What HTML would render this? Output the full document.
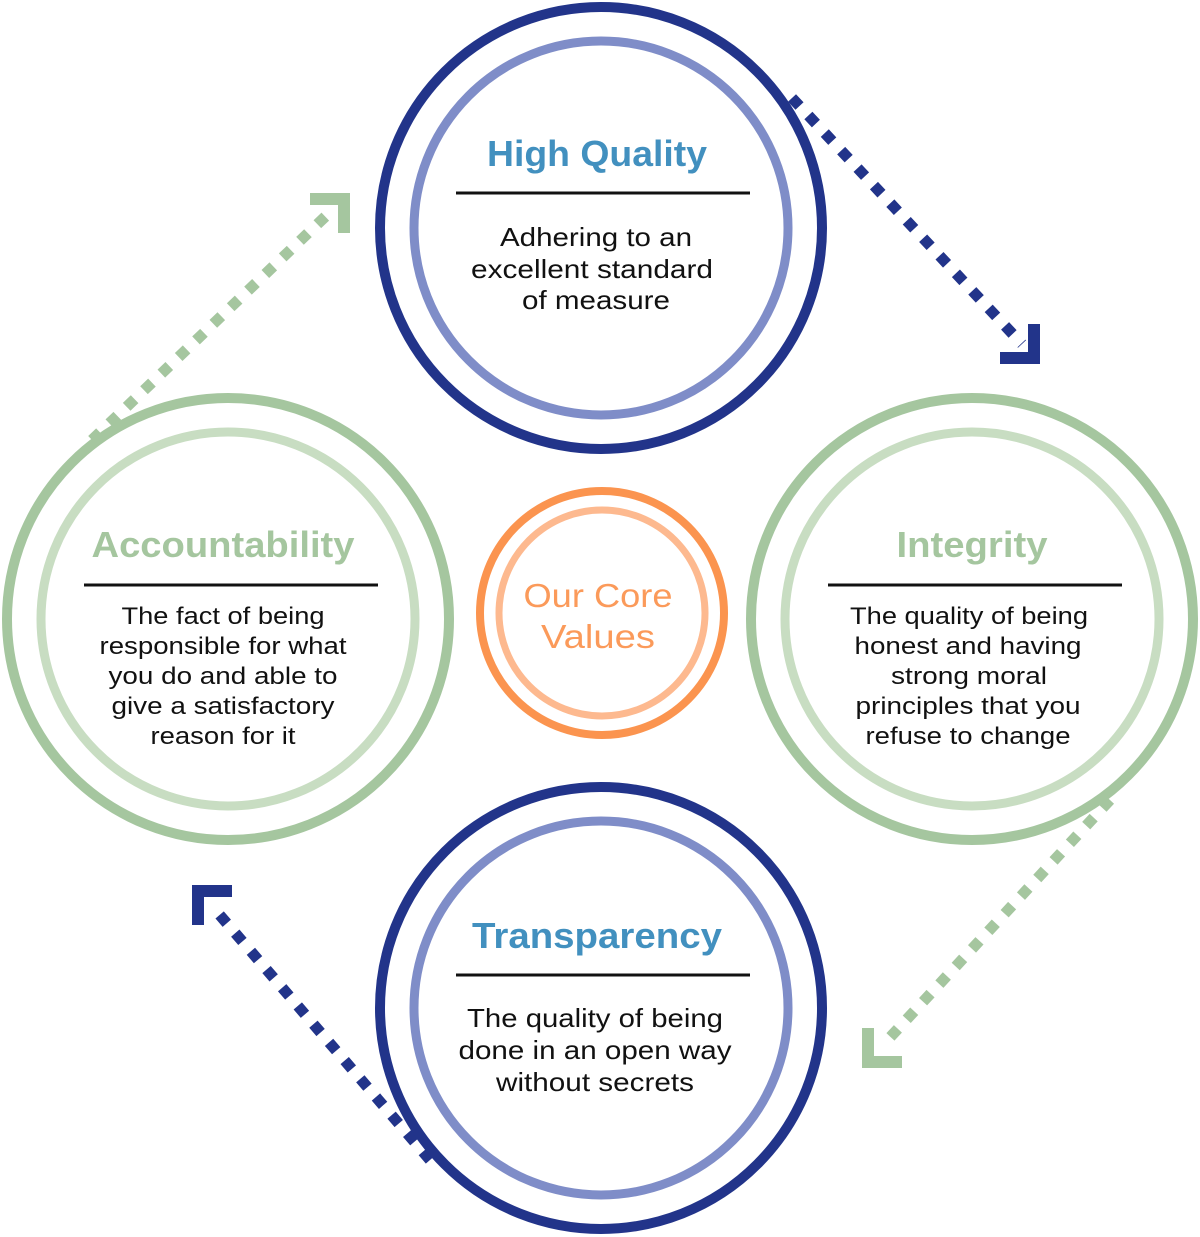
<!DOCTYPE html>
<html><head><meta charset="utf-8"><style>
html,body{margin:0;padding:0;background:#fff;width:1200px;height:1237px;overflow:hidden}
svg{display:block}
text{font-family:"Liberation Sans",sans-serif;text-anchor:middle}
.t{font-weight:bold;font-size:36px}
.b{font-size:24px;fill:#111}
.bb{font-size:26px;fill:#111}
</style></head><body>
<svg width="1200" height="1237" viewBox="0 0 1200 1237">
<g fill="none" stroke-width="11" stroke-dasharray="11 13">
<line x1="792" y1="98" x2="1022" y2="344" stroke="#22348a"/>
<line x1="430" y1="1160" x2="212" y2="906" stroke="#22348a"/>
<line x1="92" y1="440" x2="328" y2="214" stroke="#a5c69f"/>
<line x1="1110" y1="800" x2="882" y2="1046" stroke="#a5c69f"/>
</g>
<g fill="none" stroke-width="12" stroke-linejoin="miter">
<polyline points="1000,358 1034,358 1034,324" stroke="#22348a"/>
<polyline points="232,891 198,891 198,925" stroke="#22348a"/>
<polyline points="310,199 344,199 344,233" stroke="#a5c69f"/>
<polyline points="868,1028 868,1062 902,1062" stroke="#a5c69f"/>
</g>
<g fill="none">
<circle cx="601" cy="228" r="221" stroke="#22348a" stroke-width="10"/>
<circle cx="601" cy="228" r="187" stroke="#7f8dc8" stroke-width="9"/>
<circle cx="601" cy="1008" r="221" stroke="#22348a" stroke-width="10"/>
<circle cx="601" cy="1008" r="187" stroke="#7f8dc8" stroke-width="9"/>
<circle cx="228" cy="619" r="221" stroke="#a5c69f" stroke-width="10"/>
<circle cx="228" cy="619" r="187" stroke="#c8ddc2" stroke-width="9"/>
<circle cx="972" cy="619" r="221" stroke="#a5c69f" stroke-width="10"/>
<circle cx="972" cy="619" r="187" stroke="#c8ddc2" stroke-width="9"/>
<circle cx="602" cy="613" r="122" stroke="#fb944f" stroke-width="8"/>
<circle cx="602" cy="613" r="103" stroke="#fdb98f" stroke-width="7"/>
</g>
<g stroke="#111" stroke-width="3">
<line x1="456" y1="193" x2="750" y2="193"/>
<line x1="84" y1="585" x2="378" y2="585"/>
<line x1="828" y1="585" x2="1122" y2="585"/>
<line x1="456" y1="975" x2="750" y2="975"/>
</g>
<g lengthAdjust="spacingAndGlyphs">
<text class="t" x="597" y="166" fill="#4290bf" textLength="220" lengthAdjust="spacingAndGlyphs">High Quality</text>
<text class="bb" x="596" y="246" textLength="192" lengthAdjust="spacingAndGlyphs">Adhering to an</text>
<text class="bb" x="592" y="278" textLength="242" lengthAdjust="spacingAndGlyphs">excellent standard</text>
<text class="bb" x="596" y="309" textLength="148" lengthAdjust="spacingAndGlyphs">of measure</text>

<text class="t" x="223" y="557" fill="#a5c69f" textLength="263" lengthAdjust="spacingAndGlyphs">Accountability</text>
<text class="b" x="223" y="624" textLength="203" lengthAdjust="spacingAndGlyphs">The fact of being</text>
<text class="b" x="223" y="654" textLength="247" lengthAdjust="spacingAndGlyphs">responsible for what</text>
<text class="b" x="223" y="684" textLength="229" lengthAdjust="spacingAndGlyphs">you do and able to</text>
<text class="b" x="223" y="714" textLength="223" lengthAdjust="spacingAndGlyphs">give a satisfactory</text>
<text class="b" x="223" y="744" textLength="145" lengthAdjust="spacingAndGlyphs">reason for it</text>

<text class="t" x="972" y="557" fill="#a5c69f" textLength="151" lengthAdjust="spacingAndGlyphs">Integrity</text>
<text class="b" x="969" y="624" textLength="238" lengthAdjust="spacingAndGlyphs">The quality of being</text>
<text class="b" x="968" y="654" textLength="227" lengthAdjust="spacingAndGlyphs">honest and having</text>
<text class="b" x="969" y="684" textLength="156" lengthAdjust="spacingAndGlyphs">strong moral</text>
<text class="b" x="968" y="714" textLength="225" lengthAdjust="spacingAndGlyphs">principles that you</text>
<text class="b" x="968" y="744" textLength="205" lengthAdjust="spacingAndGlyphs">refuse to change</text>

<text class="t" x="597" y="948" fill="#4290bf" textLength="250" lengthAdjust="spacingAndGlyphs">Transparency</text>
<text class="bb" x="595" y="1027" textLength="256" lengthAdjust="spacingAndGlyphs">The quality of being</text>
<text class="bb" x="595" y="1059" textLength="273" lengthAdjust="spacingAndGlyphs">done in an open way</text>
<text class="bb" x="595" y="1091" textLength="198" lengthAdjust="spacingAndGlyphs">without secrets</text>

<text x="598" y="607" fill="#fb9a5a" style="font-size:33px" textLength="149" lengthAdjust="spacingAndGlyphs">Our Core</text>
<text x="598" y="648" fill="#fb9a5a" style="font-size:33px" textLength="114" lengthAdjust="spacingAndGlyphs">Values</text>
</g>
</svg>
</body></html>
